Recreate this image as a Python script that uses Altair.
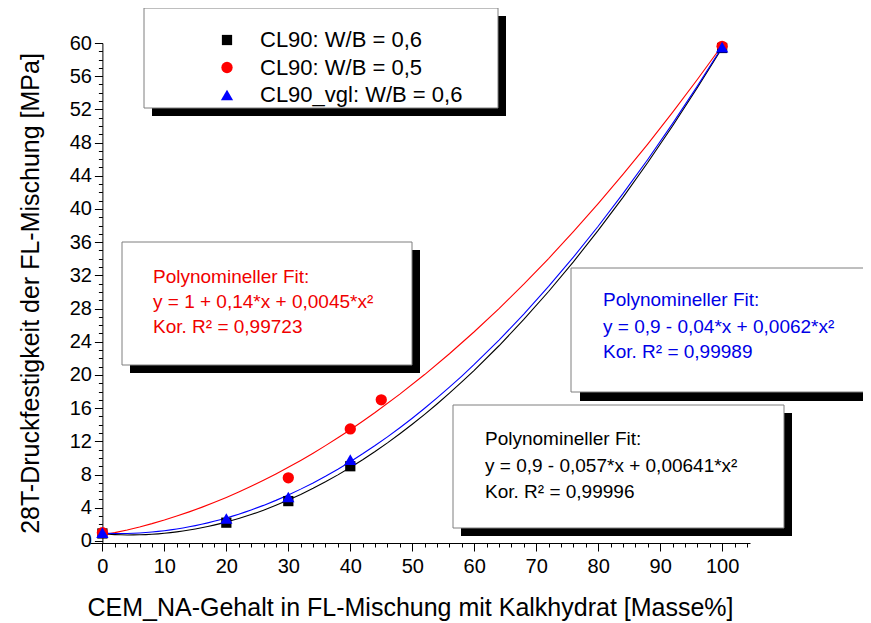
import altair as alt
import pandas as pd

FONT = "Liberation Sans"

# ---------------- data ----------------
series = ["CL90: W/B = 0,6", "CL90: W/B = 0,5", "CL90_vgl: W/B = 0,6"]
series_colors = ["#000000", "#ff0000", "#0000ff"]
series_shapes = ["square", "circle", "triangle-up"]
series_sizes = [105, 150, 165]

black_x = [0, 20, 30, 40, 100]
black_y = [0.9, 2.2, 4.8, 9.0, 59.4]
red_x = [0, 30, 40, 45, 100]
red_y = [1.0, 7.6, 13.5, 17.0, 59.6]
blue_x = [0, 20, 30, 40, 100]
blue_y = [1.0, 2.7, 5.3, 9.8, 59.5]

x_major = list(range(0, 101, 10))
x_minor = list(range(0, 105, 2))
y_major = list(range(0, 61, 4))
y_minor = list(range(0, 61, 1))

x_title = "CEM_NA-Gehalt in FL-Mischung mit Kalkhydrat [Masse%]"
y_title = "28T-Druckfestigkeit der FL-Mischung [MPa]"

fit_red = ["Polynomineller Fit:", "y = 1 + 0,14*x + 0,0045*x²", "Kor. R² = 0,99723"]
fit_blue = ["Polynomineller Fit:", "y = 0,9 - 0,04*x + 0,0062*x²", "Kor. R² = 0,99989"]
fit_black = ["Polynomineller Fit:", "y = 0,9 - 0,057*x + 0,00641*x²", "Kor. R² = 0,99996"]

# ---------------- tables ----------------
rows = []
for name, xs_, ys_ in zip(series, [black_x, red_x, blue_x], [black_y, red_y, blue_y]):
    for a, b in zip(xs_, ys_):
        rows.append({"series": name, "x": a, "y": b})
points_df = pd.DataFrame(rows)

# annotation layout (pixels, relative to plot area)
boxes = [
    # x, x2, y, y2, shadow offset
    (54, 408, -35, 65, 8),      # legend
    (32, 322, 199, 322, 8),     # red fit
    (481, 800, 225, 349, 9),    # blue fit
    (363, 694, 362, 485, 8),    # black fit
]
box_df = pd.DataFrame([{"x": a, "x2": b, "y": c, "y2": d} for a, b, c, d, o in boxes])
shadow_df = pd.DataFrame([{"x": a + o, "x2": b + o, "y": c + o, "y2": d + o} for a, b, c, d, o in boxes])

text_rows = []
for i, name in enumerate(series):
    text_rows.append({"x": 170, "y": -3 + 27.5 * i, "text": name, "color": "#000000", "size": 22})
for lines, color, x0, ys_ in [
    (fit_red, "#f00000", 63, [234, 259, 284]),
    (fit_blue, "#0000e6", 513, [257, 284, 309]),
    (fit_black, "#000000", 395, [396, 423, 449]),
]:
    for t, yy in zip(lines, ys_):
        text_rows.append({"x": x0, "y": yy, "text": t, "color": color, "size": 19})
text_df = pd.DataFrame(text_rows)

legend_sym_df = pd.DataFrame(
    [{"x": 137, "y": -3 + 27.5 * i, "series": name} for i, name in enumerate(series)]
)

# ---------------- scales / axes ----------------
X_DOMAIN = [-2, 104.5]
WIDTH = 660
HEIGHT = 500
Y_OFF = -WIDTH * (0 - X_DOMAIN[0]) / (X_DOMAIN[1] - X_DOMAIN[0])

xs = alt.Scale(domain=X_DOMAIN, nice=False, zero=False)
ys = alt.Scale(domain=[-0.25, 60], nice=False, zero=False)
color_scale = alt.Scale(domain=series, range=series_colors)
shape_scale = alt.Scale(domain=series, range=series_shapes)
size_scale = alt.Scale(domain=series, range=series_sizes)

x_axis_major = alt.Axis(
    orient="bottom", values=x_major, format="d", grid=False, tickSize=8,
    labelFontSize=20, labelPadding=5, labelFlush=False,
    title=x_title, titleFontSize=25, titleX=320, titleY=64,
    titleBaseline="middle", titleAlign="center",
)
y_axis_major = alt.Axis(
    orient="left", values=y_major, format="d", grid=False, tickSize=8,
    labelFontSize=20, labelPadding=3, offset=Y_OFF,
    title=y_title, titleFontSize=25, titleX=-72, titleY=HEIGHT / 2,
    titleBaseline="middle", titleAlign="center", titleAngle=270,
)
x_axis_minor = alt.Axis(
    orient="bottom", values=x_minor, labels=False, domain=False, grid=False,
    tickSize=4, title=None,
)
y_axis_minor = alt.Axis(
    orient="left", values=y_minor, labels=False, domain=False, grid=False,
    tickSize=4, title=None, offset=Y_OFF,
)

base = alt.Chart(points_df)

minor = base.mark_point(opacity=0).encode(
    x=alt.X("x:Q", scale=xs, axis=x_axis_minor),
    y=alt.Y("y:Q", scale=ys, axis=y_axis_minor),
)

fits = (
    base.transform_regression("x", "y", groupby=["series"], method="poly", order=2, extent=[0, 100])
    .mark_line(strokeWidth=1.1)
    .encode(
        x=alt.X("x:Q", scale=xs, axis=x_axis_major),
        y=alt.Y("y:Q", scale=ys, axis=y_axis_major),
        color=alt.Color("series:N", scale=color_scale, legend=None),
        detail="series:N",
    )
)

pts = base.mark_point(filled=True, opacity=1).encode(
    x=alt.X("x:Q", scale=xs, axis=None),
    y=alt.Y("y:Q", scale=ys, axis=None),
    color=alt.Color("series:N", scale=color_scale, legend=None),
    shape=alt.Shape("series:N", scale=shape_scale, legend=None),
    size=alt.Size("series:N", scale=size_scale, legend=None),
)

shadows = alt.Chart(shadow_df).mark_rect(fill="#000000", strokeWidth=0).encode(
    x=alt.X("x:Q", scale=None, axis=None),
    x2="x2:Q",
    y=alt.Y("y:Q", scale=None, axis=None),
    y2="y2:Q",
)
frames = alt.Chart(box_df).mark_rect(fill="#ffffff", stroke="#7f7f7f", strokeWidth=1).encode(
    x=alt.X("x:Q", scale=None, axis=None),
    x2="x2:Q",
    y=alt.Y("y:Q", scale=None, axis=None),
    y2="y2:Q",
)
texts = alt.Chart(text_df).mark_text(align="left", baseline="middle", font=FONT).encode(
    x=alt.X("x:Q", scale=None, axis=None),
    y=alt.Y("y:Q", scale=None, axis=None),
    text="text:N",
    color=alt.Color("color:N", scale=None),
    size=alt.Size("size:Q", scale=None),
)
legend_syms = alt.Chart(legend_sym_df).mark_point(filled=True, opacity=1).encode(
    x=alt.X("x:Q", scale=None, axis=None),
    y=alt.Y("y:Q", scale=None, axis=None),
    color=alt.Color("series:N", scale=color_scale, legend=None),
    shape=alt.Shape("series:N", scale=shape_scale, legend=None),
    size=alt.Size("series:N", scale=size_scale, legend=None),
)

chart = (
    alt.layer(minor, fits, pts, shadows, frames, texts, legend_syms)
    .resolve_axis(x="independent", y="independent")
    .properties(
        width=WIDTH,
        height=HEIGHT,
        autosize=alt.AutoSizeParams(type="none"),
        padding={"left": 82, "top": 35, "right": 113, "bottom": 78},
    )
    .configure_view(stroke=None)
    .configure_axis(
        labelFont=FONT, titleFont=FONT, labelColor="#000000", titleColor="#000000",
        titleFontWeight="normal", domainColor="#000000", tickColor="#000000",
        domainWidth=1, tickWidth=1,
    )
)

chart.save("out.html", embed_options={"renderer": "svg", "actions": False})
